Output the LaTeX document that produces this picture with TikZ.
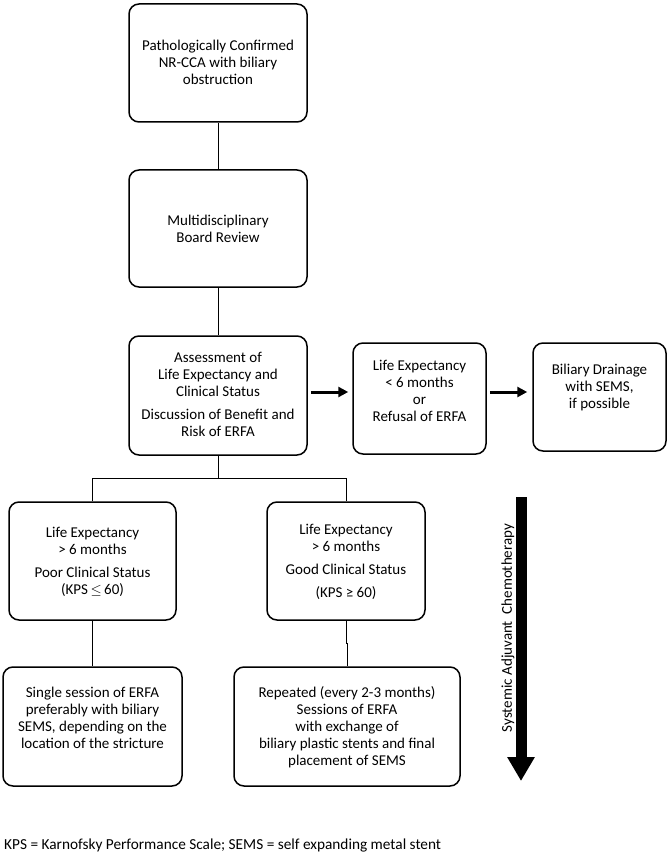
\documentclass[tikz,border=0pt]{standalone}
\usepackage{fontspec}
\setmainfont{Carlito}
\usetikzlibrary{arrows.meta,calc}
\tikzset{
  box/.style={draw, line width=1.5pt, rounded corners=10pt, inner sep=0pt},
  txt/.style={align=center, font=\fontsize{15}{17}\selectfont, inner sep=0pt},
  conn/.style={line width=1pt},
  arr/.style={line width=3pt, -{Triangle[length=10pt,width=10pt]}},
  bigarr/.style={line width=11pt, -{Triangle[length=24pt,width=26pt]}}
}
\begin{document}
\begin{tikzpicture}[x=1pt,y=-1pt]
\useasboundingbox (0,0) rectangle (671,858);
% boxes
\node[box, minimum width=178pt, minimum height=118pt] (b1) at (218,63) {};
\node[box, minimum width=178pt, minimum height=117pt] (b2) at (218,228.5) {};
\node[box, minimum width=178pt, minimum height=119pt] (b3) at (218,395.5) {};
\node[box, minimum width=133pt, minimum height=111pt] (b4) at (419.5,398.5) {};
\node[box, minimum width=133pt, minimum height=108pt] (b5) at (599.5,397) {};
\node[box, minimum width=167pt, minimum height=118pt] (b6) at (92.5,561) {};
\node[box, minimum width=158pt, minimum height=118pt] (b7) at (346,561) {};
\node[box, minimum width=179pt, minimum height=119pt] (b8) at (92.5,726.5) {};
\node[box, minimum width=226pt, minimum height=119pt] (b9) at (347,726.5) {};
% texts
\node[txt] (t1) at (218,62) {Pathologically Confirmed\\NR-CCA with biliary\\obstruction};
\node[txt] (t2) at (218,228.5) {Multidisciplinary\\Board Review};
\node[txt] (t3) at (218,394) {Assessment of\\Life Expectancy and\\Clinical Status\\[6pt]Discussion of Benefit and\\Risk of ERFA};
\node[txt] (t4) at (419.5,391) {Life Expectancy\\< 6 months\\or\\Refusal of ERFA};
\node[txt] (t5) at (599.5,387.5) {Biliary Drainage\\with SEMS,\\if possible};
\node[txt] (t6) at (92.5,561.5) {Life Expectancy\\> 6 months\\[6pt]Poor Clinical Status\\(KPS\,$\leq$\,60)};
\node[txt] (t7) at (346,561.5) {Life Expectancy\\> 6 months\\[6pt]Good Clinical Status\\[6pt](KPS ≥ 60)};
\node[txt] (t8) at (92.5,717.5) {Single session of ERFA\\preferably with biliary\\SEMS, depending on the\\location of the stricture};
\node[txt] (t9) at (347,727) {Repeated (every 2-3 months)\\Sessions of ERFA\\with exchange of\\biliary plastic stents and final\\placement of SEMS};
% connectors
\coordinate (j) at (218,478);
\draw[conn] (b1.south) -- (b2.north);
\draw[conn] (b2.south) -- (b3.north);
\draw[conn] (b3.south) -- (j);
\draw[conn] (b6.north) -- (b6.north |- j) -- (b7.north |- j) -- (b7.north);
\draw[conn] (b6.south) -- (b8.north);
\draw[conn] (b7.south) -- ++(0,23) -| (b9.north);
% arrows
\draw[arr] ([shift={(3,-3.5)}]b3.east) -- ([shift={(-4,-3.5)}]b3.east -| b4.west);
\draw[arr] ([shift={(3,-3.5)}]b3.east -| b4.east) -- ([shift={(-5,-3.5)}]b3.east -| b5.west);
% chemotherapy arrow
\coordinate (c1) at (521,497);
\coordinate (c2) at (521,781);
\draw[bigarr] (c1) -- (c2);
\node[txt, rotate=90] (chemo) at (508,628) {Systemic Adjuvant\ \ Chemotherapy};
% footnote
\node[txt, anchor=west, font=\fontsize{15.3}{17}\selectfont] (fn) at (4,845) {KPS = Karnofsky Performance Scale; SEMS = self expanding metal stent};
\end{tikzpicture}
\end{document}
